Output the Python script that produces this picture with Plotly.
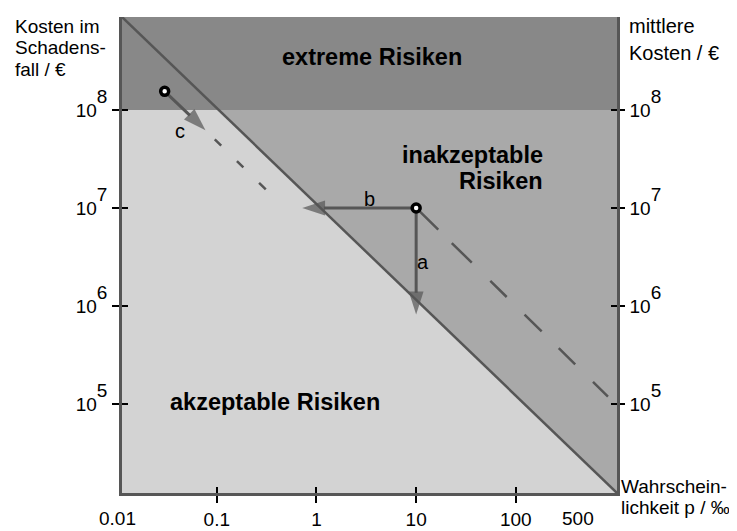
import numpy as np
import plotly.graph_objects as go

# ---------------- data ----------------
# axis extents (log10 of values): probability p in per mille, cost in EUR
p_range_log = [-1.951, 3.015]
k_range_log = [4.091, 8.949]

x_tick_vals = [0.1, 1, 10, 100]
x_tick_text = ["0.1", "1", "10", "100"]
x_extra_text = ["0.01", "500"]
y_tick_vals = [1e5, 1e6, 1e7, 1e8]
y_tick_exp = ["5", "6", "7", "8"]

extreme_threshold = 1e8  # cost above which risks are "extreme"

# scenario a / b
ab_point_p = [10]
ab_point_k = [1e7]
arrow_a_p = [10, 10]
arrow_a_k = [1e7, 8.2e5]
arrow_b_p = [10, 0.72]
arrow_b_k = [1e7, 1e7]
iso_ab_p = [10, 840]
iso_ab_k = [1e7, 1.19e5]

# scenario c
c_point_p = [0.03]
c_point_k = [1.55e8]
arrow_c_p = [0.03, 0.077]
arrow_c_k = [1.55e8, 6.2e7]
iso_c_p = [0.077, 0.31]
iso_c_k = [6.2e7, 1.55e7]

# ---------------- style ----------------
C_LIGHT = "#d3d3d3"
C_MID = "#a9a9a9"
C_DARK = "#888888"
C_LINE = "#565656"
FONT = "Liberation Sans, Arial, sans-serif"

p_min, p_max = 10 ** p_range_log[0], 10 ** p_range_log[1]
k_min, k_max = 10 ** k_range_log[0], 10 ** k_range_log[1]

# acceptability boundary (iso-risk line corner to corner)
boundary_p = [p_min, p_max]
boundary_k = [k_max, k_min]

fig = go.Figure()

# unacceptable triangle (above boundary)
fig.add_trace(go.Scatter(
    x=[p_min, p_max, p_max, p_min], y=[k_max, k_max, k_min, k_max],
    mode="lines", fill="toself", fillcolor=C_MID, line=dict(width=0),
    hoverinfo="skip", showlegend=False))
# extreme band
fig.add_trace(go.Scatter(
    x=[p_min, p_max, p_max, p_min, p_min],
    y=[extreme_threshold, extreme_threshold, k_max, k_max, extreme_threshold],
    mode="lines", fill="toself", fillcolor=C_DARK, line=dict(width=0),
    hoverinfo="skip", showlegend=False))
# boundary line
fig.add_trace(go.Scatter(
    x=boundary_p, y=boundary_k, mode="lines",
    line=dict(color=C_LINE, width=2.5), hoverinfo="skip", showlegend=False))
# dashed iso-risk lines
fig.add_trace(go.Scatter(
    x=iso_ab_p, y=iso_ab_k, mode="lines",
    line=dict(color=C_LINE, width=2.5,
              dash="31px,19px,28px,26px,23px,25px,24px,24px,23px,25px,24px,40px"),
    hoverinfo="skip", showlegend=False))
fig.add_trace(go.Scatter(
    x=iso_c_p, y=iso_c_k, mode="lines",
    line=dict(color=C_LINE, width=2.5, dash="0px,13px,9px,22px,9px,22px,10px,40px"),
    hoverinfo="skip", showlegend=False))
# arrows
for ap, ak in [(arrow_a_p, arrow_a_k), (arrow_b_p, arrow_b_k), (arrow_c_p, arrow_c_k)]:
    fig.add_trace(go.Scatter(
        x=ap, y=ak, mode="lines+markers",
        line=dict(color=C_LINE, width=3),
        marker=dict(symbol="arrow", size=[0, 24], angleref="previous",
                    color=C_LINE, line=dict(width=0)),
        hoverinfo="skip", showlegend=False))
# start points
fig.add_trace(go.Scatter(
    x=ab_point_p + c_point_p, y=ab_point_k + c_point_k, mode="markers",
    marker=dict(symbol="circle", size=8, color="white",
                line=dict(color="black", width=3.5)),
    hoverinfo="skip", showlegend=False))
# dummy traces for overlay axes
fig.add_trace(go.Scatter(x=[None], y=[None], xaxis="x2", yaxis="y3",
                         showlegend=False, hoverinfo="skip"))
fig.add_trace(go.Scatter(x=[None], y=[None], xaxis="x", yaxis="y2",
                         showlegend=False, hoverinfo="skip"))
fig.add_trace(go.Scatter(x=[None], y=[None], xaxis="x", yaxis="y4",
                         showlegend=False, hoverinfo="skip"))

tickfont = dict(family=FONT, size=19, color="black")
y_tick_text = ["10<sup><sup><span style='font-size:19px'>%s</span></sup></sup>" % e
               for e in y_tick_exp]

common_x = dict(type="log", range=p_range_log, showgrid=False, zeroline=False,
                fixedrange=True)
common_y = dict(type="log", range=k_range_log, showgrid=False, zeroline=False,
                fixedrange=True)

fig.update_layout(
    width=737, height=531,
    margin=dict(l=114, r=128, t=9, b=30),
    paper_bgcolor="white", plot_bgcolor=C_LIGHT,
    font=dict(family=FONT, size=19, color="black"),
    showlegend=False,
    xaxis=dict(**common_x, tickvals=x_tick_vals, ticktext=x_tick_text,
               ticks="outside", ticklen=7, tickwidth=1.5, tickcolor="black",
               showline=True, linecolor=C_LINE, linewidth=2.5, tickfont=tickfont),
    xaxis2=dict(**common_x, overlaying="x", anchor="y", side="bottom",
                tickvals=x_tick_vals, ticks="inside", ticklen=6, tickwidth=1.5,
                tickcolor="black", showticklabels=False, showline=False),
    yaxis=dict(**common_y, tickvals=y_tick_vals, ticktext=y_tick_text,
               ticks="outside", ticklen=7, tickwidth=1.5, tickcolor="black",
               showline=True, linecolor=C_LINE, linewidth=2.5, tickfont=tickfont,
               ticklabelstandoff=1),
    yaxis2=dict(**common_y, overlaying="y", side="right", anchor="x",
                tickvals=y_tick_vals, ticktext=y_tick_text,
                ticks="outside", ticklen=5, tickwidth=1.5, tickcolor="black",
                showline=True, linecolor=C_LINE, linewidth=2.5, tickfont=tickfont,
                ticklabelstandoff=1),
    yaxis3=dict(**common_y, overlaying="y", side="left", anchor="x2",
                tickvals=y_tick_vals, ticks="inside", ticklen=6, tickwidth=1.5,
                tickcolor="black", showticklabels=False, showline=False),
    yaxis4=dict(**common_y, overlaying="y", side="right", anchor="x",
                tickvals=y_tick_vals, ticks="inside", ticklen=6, tickwidth=1.5,
                tickcolor="black", showticklabels=False, showline=False),
)

ann = []
# extra x labels: 0.01 at the left edge, 500 without a tick mark
ann.append(dict(x=-0.0089, xref="paper", y=0, yref="paper", xanchor="center",
                yanchor="top", yshift=-13, text=x_extra_text[0], showarrow=False,
                font=dict(family=FONT, size=19, color="black")))
ann.append(dict(x=np.log10(500), xref="x", y=0, yref="paper", xanchor="center",
                yanchor="top", yshift=-13, xshift=-8, text=x_extra_text[1],
                showarrow=False, font=dict(family=FONT, size=19, color="black")))

def txt(x, y, t, size=20, bold=False, xanchor="center"):
    ann.append(dict(x=x, y=y, xref="paper", yref="paper",
                    text=("<b>%s</b>" % t) if bold else t,
                    showarrow=False, xanchor=xanchor, yanchor="middle",
                    font=dict(family=FONT, size=size, color="black")))

txt(0.505, 0.915, "extreme Risiken", 23.5, True)
txt(0.8545, 0.7093, "inakzeptable", 23.5, True, "right")
txt(0.8545, 0.6565, "Risiken", 23.5, True, "right")
txt(0.310, 0.191, "akzeptable Risiken", 23.5, True)
txt(0.6081, 0.4858, "a", 20)
txt(0.5010, 0.6179, "b", 20)
txt(0.1172, 0.7602, "c", 20)
# left axis title (three lines)
txt(-0.220, 0.9797, "Kosten im", 19, xanchor="left")
txt(-0.220, 0.9350, "Schadens-", 19, xanchor="left")
txt(-0.220, 0.8903, "fall / €", 19, xanchor="left")
# right axis title
txt(1.0192, 0.9807, "mittlere", 20, xanchor="left")
txt(1.0192, 0.9238, "Kosten / €", 20, xanchor="left")
# x axis title
txt(1.0050, 0.0142, "Wahrschein-", 19, xanchor="left")
txt(1.0050, -0.0305, "lichkeit p / ‰", 19, xanchor="left")

fig.update_layout(annotations=ann)
fig.write_html("out.html")
